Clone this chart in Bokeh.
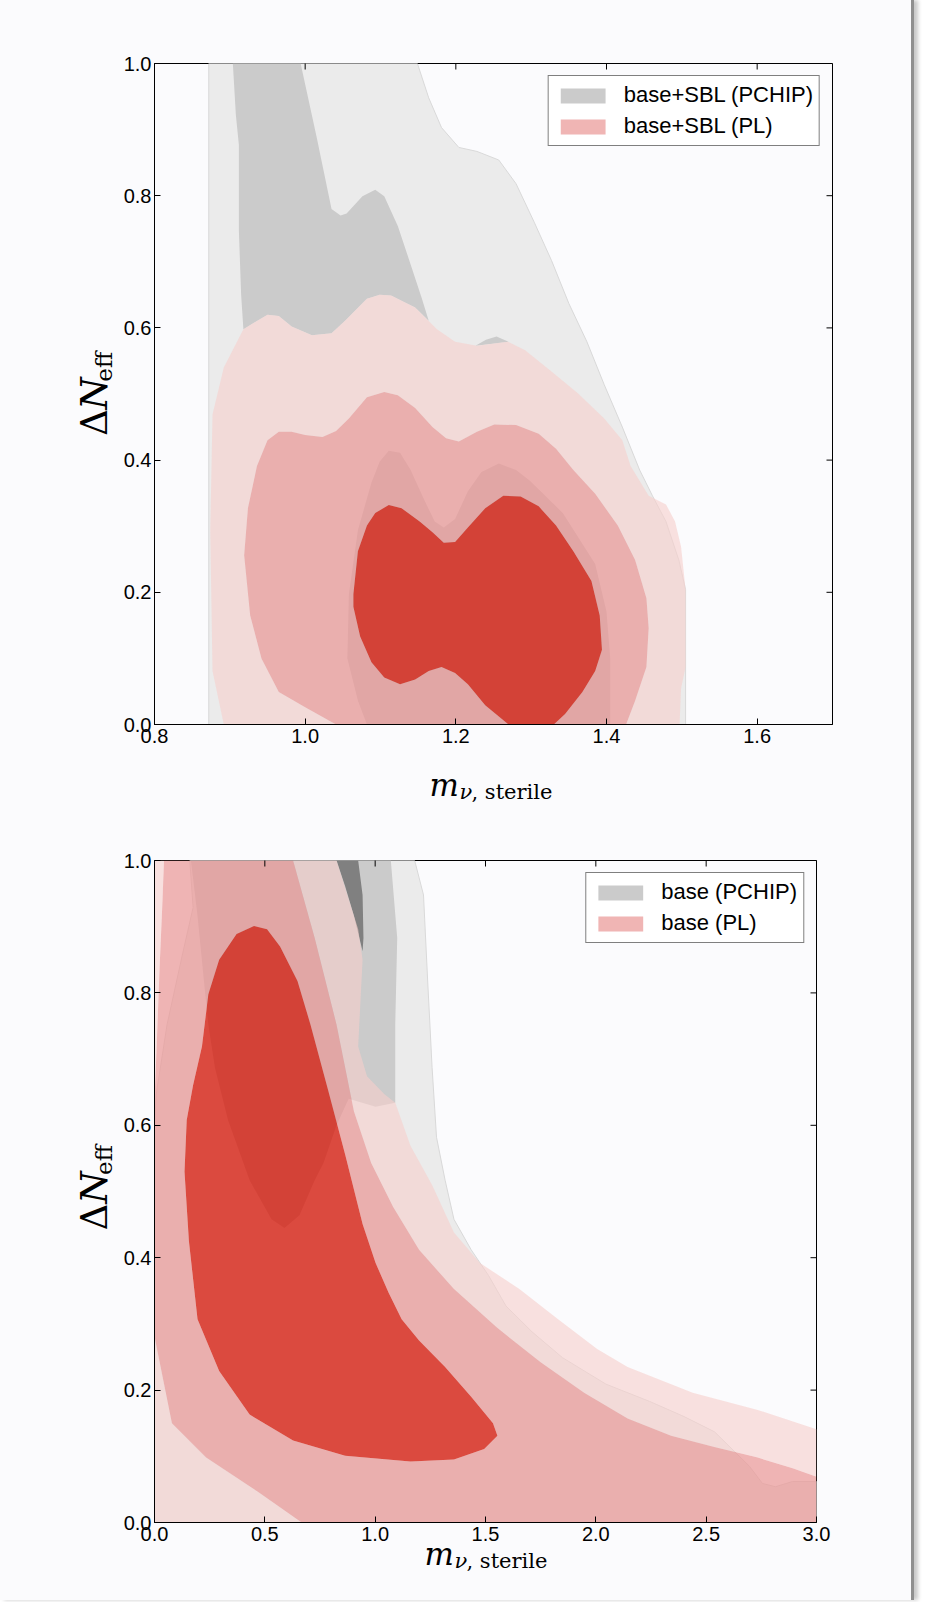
import numpy as np
from bokeh.plotting import figure
from bokeh.models import LinearAxis, Range1d, Legend, LegendItem, FixedTicker
from bokeh.layouts import column, row
from bokeh.embed import file_html
from bokeh.resources import INLINE
from bokeh.core.properties import value

# ---------------- data ----------------
Y_TICKS = [0.0, 0.2, 0.4, 0.6, 0.8, 1.0]
Y_TICK_LABELS = ["0.0", "0.2", "0.4", "0.6", "0.8", "1.0"]
TOP_X_TICKS = [0.8, 1.0, 1.2, 1.4, 1.6]
TOP_X_TICK_LABELS = ["0.8", "1.0", "1.2", "1.4", "1.6"]
BOT_X_TICKS = [0.0, 0.5, 1.0, 1.5, 2.0, 2.5, 3.0]
BOT_X_TICK_LABELS = ["0.0", "0.5", "1.0", "1.5", "2.0", "2.5", "3.0"]

TOP_LEGEND = ["base+SBL (PCHIP)", "base+SBL (PL)"]
BOT_LEGEND = ["base (PCHIP)", "base (PL)"]

# --- top panel: base+SBL ---
TOP_PCHIP_2S_X = [0.872, 0.872, 1.149, 1.164, 1.181, 1.204, 1.228, 1.257, 1.280, 1.304, 1.327, 1.350,
                  1.374, 1.397, 1.421, 1.444, 1.461, 1.479, 1.496, 1.505, 1.505]
TOP_PCHIP_2S_Y = [0.0, 1.0, 1.0, 0.948, 0.903, 0.873, 0.867, 0.854, 0.818, 0.760, 0.702, 0.637,
                  0.579, 0.514, 0.450, 0.385, 0.346, 0.307, 0.249, 0.204, 0.0]

TOP_PCHIP_1S_UP_X = [0.904, 0.908, 0.912, 0.912, 0.915, 0.918, 0.950, 0.965, 0.982, 1.009, 1.035, 1.053,
                     1.082, 1.099, 1.114, 1.146, 1.164, 1.155, 1.140, 1.123, 1.105, 1.093, 1.076, 1.055,
                     1.047, 1.035, 1.015, 0.994]
TOP_PCHIP_1S_UP_Y = [1.0, 0.922, 0.877, 0.747, 0.650, 0.598, 0.620, 0.618, 0.602, 0.589, 0.592, 0.611,
                     0.644, 0.650, 0.649, 0.631, 0.611, 0.644, 0.696, 0.754, 0.799, 0.809, 0.799, 0.773,
                     0.770, 0.780, 0.890, 1.0]
TOP_PCHIP_1S_BUMP_X = [1.226, 1.240, 1.254, 1.270]
TOP_PCHIP_1S_BUMP_Y = [0.573, 0.582, 0.587, 0.579]
TOP_PCHIP_1S_LOW_X = [1.082, 1.070, 1.056, 1.058, 1.070, 1.088, 1.099, 1.111, 1.126, 1.140, 1.158, 1.172,
                      1.184, 1.199, 1.216, 1.234, 1.257, 1.280, 1.298, 1.342, 1.385, 1.400, 1.405, 1.405]
TOP_PCHIP_1S_LOW_Y = [0.0, 0.036, 0.100, 0.197, 0.294, 0.366, 0.398, 0.414, 0.411, 0.385, 0.340, 0.307,
                      0.298, 0.311, 0.353, 0.382, 0.395, 0.385, 0.369, 0.320, 0.243, 0.171, 0.100, 0.0]

TOP_PL_3S_X = [0.892, 0.877, 0.874, 0.877, 0.892, 0.918, 0.950, 0.965, 0.982, 1.009, 1.035, 1.053, 1.082,
               1.099, 1.114, 1.146, 1.175, 1.199, 1.228, 1.269, 1.292, 1.327, 1.362, 1.397, 1.421, 1.432,
               1.456, 1.479, 1.491, 1.499, 1.505, 1.505, 1.499, 1.497]
TOP_PL_3S_Y = [0.0, 0.081, 0.294, 0.469, 0.540, 0.598, 0.620, 0.618, 0.602, 0.589, 0.592, 0.611, 0.644,
               0.650, 0.649, 0.631, 0.598, 0.579, 0.573, 0.579, 0.566, 0.534, 0.501, 0.463, 0.430, 0.391,
               0.346, 0.333, 0.307, 0.269, 0.204, 0.087, 0.055, 0.0]
TOP_PL_2S_X = [1.041, 1.000, 0.965, 0.942, 0.927, 0.919, 0.924, 0.936, 0.950, 0.965, 0.982, 1.000, 1.023,
               1.041, 1.058, 1.082, 1.105, 1.123, 1.146, 1.169, 1.187, 1.204, 1.228, 1.251, 1.280, 1.310,
               1.333, 1.356, 1.385, 1.415, 1.438, 1.453, 1.456, 1.453, 1.438, 1.426]
TOP_PL_2S_Y = [0.0, 0.026, 0.049, 0.100, 0.165, 0.256, 0.327, 0.391, 0.430, 0.443, 0.443, 0.438, 0.435,
               0.444, 0.463, 0.495, 0.503, 0.498, 0.479, 0.450, 0.433, 0.428, 0.443, 0.454, 0.453, 0.440,
               0.417, 0.385, 0.349, 0.301, 0.249, 0.191, 0.146, 0.087, 0.036, 0.0]
TOP_PL_1S_X = [1.064, 1.070, 1.082, 1.093, 1.111, 1.128, 1.152, 1.169, 1.184, 1.199, 1.216, 1.239, 1.263,
               1.286, 1.310, 1.333, 1.356, 1.380, 1.391, 1.394, 1.385, 1.368, 1.345, 1.330, 1.270, 1.239,
               1.216, 1.199, 1.181, 1.164, 1.146, 1.126, 1.105, 1.088, 1.073, 1.064]
TOP_PL_1S_Y = [0.197, 0.262, 0.301, 0.320, 0.332, 0.327, 0.307, 0.291, 0.275, 0.276, 0.298, 0.327, 0.346,
               0.345, 0.330, 0.301, 0.262, 0.217, 0.165, 0.113, 0.081, 0.049, 0.016, 0.0, 0.0, 0.029,
               0.061, 0.078, 0.087, 0.081, 0.068, 0.061, 0.071, 0.094, 0.133, 0.178]

# --- bottom panel: base ---
BOT_PCHIP_2S_X = [0.0, 0.0, 0.008, 0.057, 0.126, 0.175, 0.160, 1.179, 1.219, 1.238, 1.258, 1.278, 1.317,
                  1.357, 1.435, 1.514, 1.593, 1.711, 1.849, 2.046, 2.243, 2.400, 2.538, 2.617, 2.696, 2.755,
                  2.814, 2.892, 3.0, 3.0]
BOT_PCHIP_2S_Y = [0.0, 0.600, 0.647, 0.752, 0.857, 0.929, 1.0, 1.0, 0.948, 0.818, 0.687, 0.582, 0.517,
                  0.458, 0.412, 0.373, 0.327, 0.288, 0.249, 0.209, 0.183, 0.160, 0.137, 0.111, 0.085, 0.059,
                  0.054, 0.062, 0.062, 0.0]
BOT_PCHIP_1S_X = [0.165, 1.071, 1.100, 1.091, 1.091, 1.002, 0.880, 0.825, 0.766, 0.726, 0.657, 0.589,
                  0.530, 0.431, 0.333, 0.274, 0.244, 0.224, 0.195]
BOT_PCHIP_1S_Y = [1.0, 1.0, 0.883, 0.752, 0.634, 0.628, 0.640, 0.600, 0.543, 0.517, 0.464, 0.445,
                  0.458, 0.517, 0.608, 0.687, 0.752, 0.818, 0.916]
BOT_PCHIP_CORE_X = [0.825, 0.923, 0.943, 0.947, 0.943, 0.904, 0.864]
BOT_PCHIP_CORE_Y = [1.0, 1.0, 0.948, 0.883, 0.863, 0.916, 0.961]

BOT_PL_3S_X = [0.0, 0.0, 0.825, 0.874, 0.923, 0.943, 0.933, 0.923, 0.963, 1.042, 1.091, 1.160, 1.258,
               1.357, 1.475, 1.652, 1.829, 2.006, 2.144, 2.439, 2.734, 3.0, 3.0]
BOT_PL_3S_Y = [0.0, 1.0, 1.0, 0.948, 0.896, 0.850, 0.785, 0.719, 0.674, 0.647, 0.634, 0.569, 0.510,
               0.438, 0.392, 0.353, 0.307, 0.262, 0.235, 0.196, 0.170, 0.141, 0.0]
BOT_PL_2S_X = [0.043, 0.628, 0.726, 0.825, 0.904, 0.982, 1.081, 1.199, 1.356, 1.553, 1.750, 1.947, 2.144,
               2.341, 2.537, 2.734, 2.892, 3.0, 3.0, 0.667, 0.470, 0.234, 0.079, 0.0, 0.0, 0.010, 0.022,
               0.035]
BOT_PL_2S_Y = [1.0, 1.0, 0.883, 0.752, 0.621, 0.543, 0.477, 0.412, 0.353, 0.294, 0.242, 0.196, 0.157,
               0.131, 0.114, 0.098, 0.082, 0.069, 0.0, 0.0, 0.046, 0.098, 0.150, 0.281, 0.640, 0.720, 0.830,
               0.930]
BOT_PL_1S_X = [0.451, 0.372, 0.293, 0.244, 0.215, 0.175, 0.146, 0.136, 0.156, 0.195, 0.293, 0.431, 0.628,
               0.864, 1.160, 1.357, 1.494, 1.554, 1.534, 1.435, 1.317, 1.199, 1.120, 1.061, 1.002, 0.943,
               0.864, 0.786, 0.707, 0.648, 0.569, 0.510]
BOT_PL_1S_Y = [0.901, 0.889, 0.850, 0.798, 0.719, 0.661, 0.608, 0.530, 0.425, 0.307, 0.229, 0.163, 0.124,
               0.101, 0.092, 0.095, 0.111, 0.131, 0.150, 0.190, 0.235, 0.275, 0.307, 0.347, 0.392, 0.451,
               0.556, 0.654, 0.752, 0.818, 0.870, 0.896]

# ---------------- styles ----------------
BG = "#fbfbfd"
GRAY_2S = "#ebebeb"
GRAY_1S = "#cbcbcb"
GRAY_CORE = "#808080"
RED_3S, A_3S = "#f6cecb", 0.6
RED_2S, A_2S = "#ea9795", 0.71
RED_1S, A_1S = "#d51405", 0.75
TICK_FONT = "Liberation Sans"
MATH_FONT = "DejaVu Serif"
YLAB_W = 115
PAGE_W = 911


def style_blank(f, transparent=False):
    f.background_fill_color = BG
    f.border_fill_color = BG
    if transparent:
        f.background_fill_alpha = 0
        f.border_fill_alpha = 0
    f.outline_line_color = None
    f.xgrid.visible = False
    f.ygrid.visible = False


def make_fig(xr, xticks, xlabels, fw, fh, mr, mt, mb):
    p = figure(x_range=Range1d(*xr), y_range=Range1d(0, 1), frame_width=fw, frame_height=fh,
               min_border_left=154 - YLAB_W, min_border_right=mr, min_border_top=mt, min_border_bottom=mb,
               output_backend="svg", toolbar_location=None,
               x_axis_location=None, y_axis_location=None)
    p.background_fill_color = BG
    p.border_fill_color = BG
    p.outline_line_color = "black"
    p.outline_line_width = 1
    p.xgrid.visible = False
    p.ygrid.visible = False
    for side, ticks, labels in [("below", xticks, xlabels), ("left", Y_TICKS, Y_TICK_LABELS)]:
        ax = LinearAxis(ticker=FixedTicker(ticks=ticks),
                        major_label_overrides={t: l for t, l in zip(ticks, labels)})
        ax.axis_line_color = "black"
        ax.axis_line_width = 1
        ax.major_tick_in = 6
        ax.major_tick_out = 0
        ax.major_tick_line_color = "black"
        ax.minor_tick_line_color = None
        ax.major_label_text_font = TICK_FONT
        ax.major_label_text_font_size = "20px"
        ax.major_label_text_color = "black"
        ax.major_label_standoff = 4 if side == "below" else 3
        p.add_layout(ax, side)
    return p


def mirror_ticks(p, xticks):
    # inward ticks on the top and right frame edges (outer half is clipped by the frame)
    p.scatter(x=xticks, y=[p.y_range.end] * len(xticks), marker="dash", size=12, angle=np.pi / 2,
              line_color="black", line_width=1)
    p.scatter(x=[p.x_range.end] * len(Y_TICKS), y=Y_TICKS, marker="dash", size=12,
              line_color="black", line_width=1)


def band(p, outer_x, outer_y, inner_x, inner_y, color, alpha):
    if inner_x is None:
        xs, ys = [[[outer_x]]], [[[outer_y]]]
    else:
        xs, ys = [[[outer_x, inner_x]]], [[[outer_y, inner_y]]]
    return p.multi_polygons(xs=xs, ys=ys, fill_color=color, fill_alpha=alpha, line_color=None)


def add_legend(p, labels, r_gray, r_red):
    leg = Legend(items=[LegendItem(label=labels[0], renderers=[r_gray]),
                        LegendItem(label=labels[1], renderers=[r_red])],
                 location="top_right")
    leg.label_text_font = TICK_FONT
    leg.label_text_font_size = "22px"
    leg.label_text_color = "black"
    leg.glyph_width = 56
    leg.glyph_height = 19
    leg.label_height = 16
    leg.label_standoff = 13
    leg.padding = 6
    leg.spacing = 5
    leg.margin = 12
    leg.border_line_color = "black"
    leg.border_line_width = 1
    leg.background_fill_color = "white"
    leg.background_fill_alpha = 1.0
    p.add_layout(leg)


def ylabel_fig(h, base_x, start_y):
    # start_y: distance (px) of the label's lower end from the top of this strip
    f = figure(width=YLAB_W, height=h, x_range=Range1d(0, YLAB_W), y_range=Range1d(0, h),
               min_border=0, output_backend="svg", toolbar_location=None, title=None,
               x_axis_location=None, y_axis_location=None)
    style_blank(f)
    yb = h - start_y
    f.text(x=[base_x], y=[yb], text=["Δ"], angle=np.pi / 2, text_font=value(MATH_FONT),
           text_font_size="37px", text_color="black", text_baseline="alphabetic", text_align="left")
    f.text(x=[base_x], y=[yb + 30], text=["N"], angle=np.pi / 2, text_font=value(MATH_FONT),
           text_font_style="italic", text_font_size="37px", text_color="black",
           text_baseline="alphabetic", text_align="left")
    f.text(x=[base_x + 9], y=[yb + 62], text=["eff"], angle=np.pi / 2, text_font=value(MATH_FONT),
           text_font_size="23px", text_color="black", text_baseline="alphabetic", text_align="left")
    return f


def xlabel_fig(h, m_x, m_base, overlap=0):
    f = figure(width=PAGE_W, height=h + overlap, x_range=Range1d(0, PAGE_W), y_range=Range1d(0, h + overlap),
               min_border=0, output_backend="svg", toolbar_location=None, title=None,
               x_axis_location=None, y_axis_location=None,
               margin=(-overlap, 0, 0, 0) if overlap else None)
    style_blank(f, transparent=bool(overlap))
    yb = h - m_base
    f.text(x=[m_x], y=[yb], text=["m"], text_font=value(MATH_FONT), text_font_style="italic",
           text_font_size="31px", text_color="black", text_baseline="alphabetic", text_align="left")
    f.text(x=[m_x + 30], y=[yb - 7], text=["ν"], text_font=value(MATH_FONT), text_font_style="italic",
           text_font_size="21px", text_color="black", text_baseline="alphabetic", text_align="left")
    f.text(x=[m_x + 42], y=[yb - 7], text=[", sterile"], text_font=value(MATH_FONT),
           text_font_size="21px", text_color="black", text_baseline="alphabetic", text_align="left")
    return f


# ---------------- top panel (page y 0..754) ----------------
p1 = make_fig((0.8, 1.7), TOP_X_TICKS, TOP_X_TICK_LABELS, 678, 661, PAGE_W - 154 - 678, 63, 30)
p1.patch(TOP_PCHIP_2S_X, TOP_PCHIP_2S_Y, fill_color=GRAY_2S, line_color="#d9d9d9", line_width=1)
g1 = p1.patch(TOP_PCHIP_1S_UP_X, TOP_PCHIP_1S_UP_Y, fill_color=GRAY_1S, line_color=None)
p1.patch(TOP_PCHIP_1S_BUMP_X, TOP_PCHIP_1S_BUMP_Y, fill_color=GRAY_1S, line_color=None)
p1.patch(TOP_PCHIP_1S_LOW_X, TOP_PCHIP_1S_LOW_Y, fill_color=GRAY_1S, line_color=None)
band(p1, TOP_PL_3S_X, TOP_PL_3S_Y, TOP_PL_2S_X, TOP_PL_2S_Y, RED_3S, A_3S)
r2 = band(p1, TOP_PL_2S_X, TOP_PL_2S_Y, TOP_PL_1S_X, TOP_PL_1S_Y, RED_2S, A_2S)
band(p1, TOP_PL_1S_X, TOP_PL_1S_Y, None, None, RED_1S, A_1S)
mirror_ticks(p1, TOP_X_TICKS)
add_legend(p1, TOP_LEGEND, g1, r2)

ylab1 = ylabel_fig(754, 94, 425)
xlab1 = xlabel_fig(58, 429, 784 - 754)

# ---------------- bottom panel (page y 812..1549) ----------------
p2 = make_fig((0.0, 3.0), BOT_X_TICKS, BOT_X_TICK_LABELS, 662, 662, PAGE_W - 154 - 662, 48, 27)
p2.patch(BOT_PCHIP_2S_X, BOT_PCHIP_2S_Y, fill_color=GRAY_2S, line_color="#d9d9d9", line_width=1)
g1b = p2.patch(BOT_PCHIP_1S_X, BOT_PCHIP_1S_Y, fill_color=GRAY_1S, line_color=None)
p2.patch(BOT_PCHIP_CORE_X, BOT_PCHIP_CORE_Y, fill_color=GRAY_CORE, line_color=None)
band(p2, BOT_PL_3S_X, BOT_PL_3S_Y, BOT_PL_2S_X, BOT_PL_2S_Y, RED_3S, A_3S)
r2b = band(p2, BOT_PL_2S_X, BOT_PL_2S_Y, BOT_PL_1S_X, BOT_PL_1S_Y, RED_2S, A_2S)
band(p2, BOT_PL_1S_X, BOT_PL_1S_Y, None, None, RED_1S, A_1S)
mirror_ticks(p2, BOT_X_TICKS)
add_legend(p2, BOT_LEGEND, g1b, r2b)

ylab2 = ylabel_fig(737, 94, 1224 - 812)
# the bottom x label sits close to the tick labels: let its strip overlap the panel's lower border
xlab2 = xlabel_fig(51, 424, 1553 - 1549, overlap=20)

layout = column(row(ylab1, p1), xlab1, row(ylab2, p2), xlab2,
                styles={"background-color": BG, "border-right": "3px solid #8f8f8f",
                        "box-shadow": "4px 0px 4px #c8c8c8"})
open("out.html", "w").write(file_html(layout, INLINE))
